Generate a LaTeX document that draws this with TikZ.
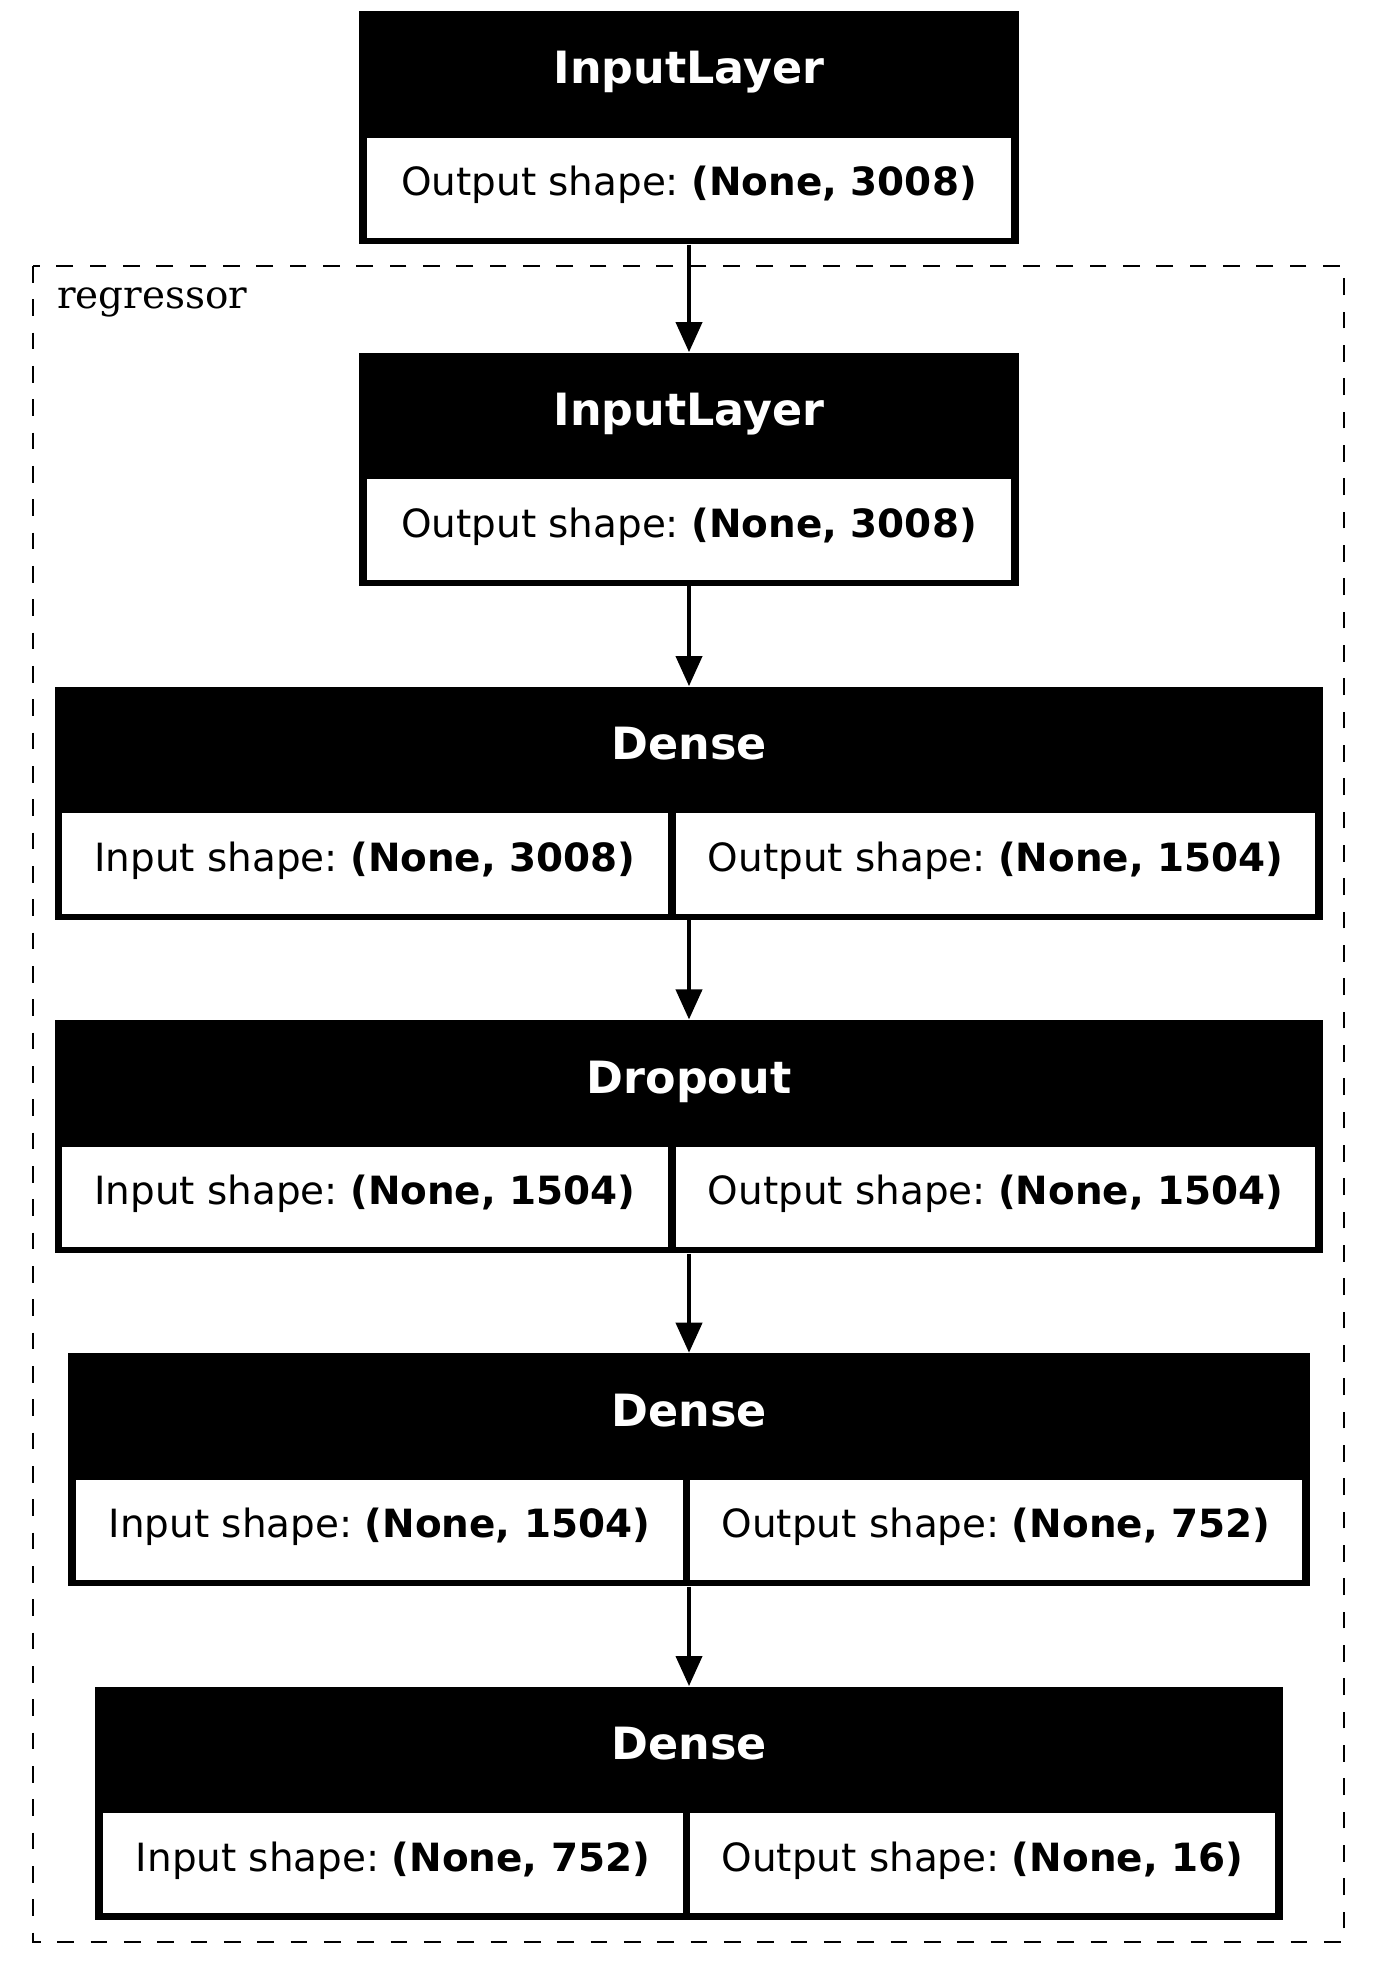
\documentclass[tikz,border=0pt]{standalone}
\usepackage{fontspec}
\setmainfont{DejaVu Sans}
\newfontfamily\clusterfont{DejaVu Serif}
\usepackage{tikz}
\usetikzlibrary{arrows.meta}
\tikzset{>=Triangle}
\tikzset{layer/.style = {fill=black, inner sep=0pt, minimum height=83.9pt}}
\tikzset{head/.style = {anchor=base, text=white, font=\fontsize{16}{19}\selectfont\bfseries}}
\tikzset{cell/.style = {anchor=north, fill=white, inner sep=0pt, minimum height=36.1pt, text height=8pt, text depth=2.35pt, font=\fontsize{14}{17}\selectfont}}
\tikzset{flow/.style = {-{Triangle[length=10.8pt,width=9.4pt]}, line width=1.33pt}}
\frenchspacing

\begin{document}
\begin{tikzpicture}[x=0.36pt, y=-0.36pt]
                \useasboundingbox (0,0) rectangle (1378,1975);

                % cluster frame
                \draw[dash pattern=on 6pt off 6pt, line width=0.6pt] (33,266) rectangle (1344,1941.7);
                \node[anchor=base west, inner sep=0pt, font=\clusterfont\fontsize{14}{17}\selectfont] (regname) at (56.7,309) {regressor};

                \node[layer, minimum width=237.8pt] (inlayer) at (689,127.5) {};
                \node[head] (inlayerhead) at (689,84) {InputLayer};
                \node[cell, minimum width=232pt] (inlayerout) at (689,137) {Output shape: \textbf{(None, 3008)}};

                \node[layer, minimum width=237.8pt] (reginput) at (689,469.2) {};
                \node[head] (reginputhead) at (689,425.7) {InputLayer};
                \node[cell, minimum width=232pt] (reginputout) at (689,478.7) {Output shape: \textbf{(None, 3008)}};

                \node[layer, minimum width=456.8pt] (dense1) at (689,803.2) {};
                \node[head] (dense1head) at (689,759.7) {Dense};
                \node[cell, minimum width=218.2pt] (dense1in) at (365,812.7) {Input shape: \textbf{(None, 3008)}};
                \node[cell, minimum width=230.2pt] (dense1out) at (995.75,812.7) {Output shape: \textbf{(None, 1504)}};

                \node[layer, minimum width=456.8pt] (dropout) at (689,1136.5) {};
                \node[head] (dropouthead) at (689,1093) {Dropout};
                \node[cell, minimum width=218.2pt] (dropoutin) at (365,1146) {Input shape: \textbf{(None, 1504)}};
                \node[cell, minimum width=230.2pt] (dropoutout) at (995.75,1146) {Output shape: \textbf{(None, 1504)}};

                \node[layer, minimum width=447.1pt] (dense2) at (689,1469.8) {};
                \node[head] (dense2head) at (689,1426.3) {Dense};
                \node[cell, minimum width=218.5pt] (dense2in) at (379.5,1479.3) {Input shape: \textbf{(None, 1504)}};
                \node[cell, minimum width=220.3pt] (dense2out) at (996,1479.3) {Output shape: \textbf{(None, 752)}};

                \node[layer, minimum width=427.8pt] (dense3) at (689,1803.1) {};
                \node[head] (dense3head) at (689,1759.6) {Dense};
                \node[cell, minimum width=208.8pt] (dense3in) at (393,1812.6) {Input shape: \textbf{(None, 752)}};
                \node[cell, minimum width=210.6pt] (dense3out) at (982.5,1812.6) {Output shape: \textbf{(None, 16)}};

                \draw[flow] (inlayer) -- (reginput);
                \draw[flow] (reginput) -- (dense1);
                \draw[flow] (dense1) -- (dropout);
                \draw[flow] (dropout) -- (dense2);
                \draw[flow] (dense2) -- (dense3);
            \end{tikzpicture}
\end{document}
